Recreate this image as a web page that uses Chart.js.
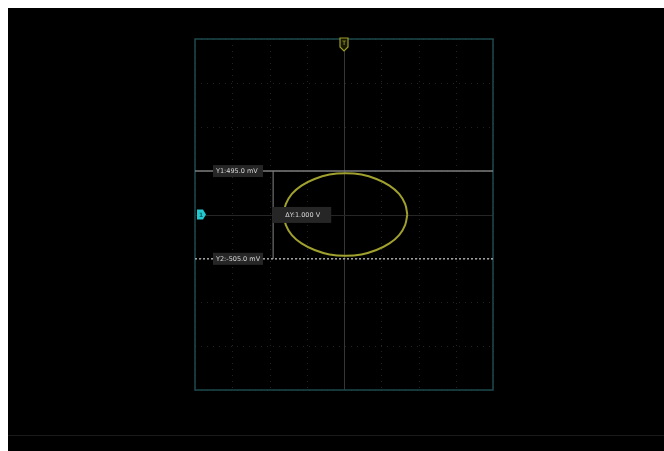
<!DOCTYPE html>
<html>
<head>
<meta charset="utf-8">
<script src="https://cdn.jsdelivr.net/npm/chart.js@4.4.1/dist/chart.umd.min.js"></script>
<style>
  body { margin: 8px 0 0 8px; background: #fff; overflow: hidden; }
  #wrap { width: 656px; height: 443px; background: #000; }
</style>
</head>
<body>
<div id="wrap"><canvas id="scope" width="656" height="443"></canvas></div>
<script>
// XY mode, 500 mV/div on both axes, 8 x 8 divisions
const divTicks = [-2, -1.5, -1, -0.5, 0, 0.5, 1, 1.5, 2];

// Lissajous trace (volts)
const traceX = [0.85, 0.82, 0.74, 0.61, 0.435, 0.235, 0.02, -0.195, -0.395, -0.57, -0.70, -0.78,
                -0.81, -0.78, -0.70, -0.57, -0.395, -0.195, 0.02, 0.235, 0.435, 0.61, 0.74, 0.82, 0.85];
const traceY = [0, 0.12, 0.235, 0.33, 0.405, 0.455, 0.47, 0.455, 0.405, 0.33, 0.235, 0.12,
                0, -0.12, -0.235, -0.33, -0.405, -0.455, -0.47, -0.455, -0.405, -0.33, -0.235, -0.12, 0];

// horizontal cursors
const cursorNames = ['Y1', 'Y2'];
const cursorValues = [0.495, -0.505];
const cursorLabels = ['Y1:495.0 mV', 'Y2:-505.0 mV'];
const deltaLabel = 'ΔY:1.000 V';
const deltaX = -0.95;

const pts = traceX.map((x, i) => ({ x: x, y: traceY[i] }));

const scopePlugin = {
    id: 'scope',
    beforeDatasetsDraw(chart) {
        const { ctx, chartArea: a, scales: { x, y } } = chart;
        ctx.save();
        // dotted division grid
        ctx.strokeStyle = '#232323';
        ctx.lineWidth = 1;
        ctx.setLineDash([1, 5]);
        divTicks.forEach(v => {
            if (v === 0) return;
            const px = Math.round(x.getPixelForValue(v)) + 0.5;
            ctx.beginPath(); ctx.moveTo(px, a.top); ctx.lineTo(px, a.bottom); ctx.stroke();
            const py = Math.round(y.getPixelForValue(v)) + 0.5;
            ctx.beginPath(); ctx.moveTo(a.left, py); ctx.lineTo(a.right, py); ctx.stroke();
        });
        // centre axes
        ctx.setLineDash([]);
        ctx.strokeStyle = '#363636';
        const cx = Math.round(x.getPixelForValue(0)) + 0.5;
        const cy = Math.round(y.getPixelForValue(0)) + 0.5;
        ctx.beginPath(); ctx.moveTo(cx, a.top); ctx.lineTo(cx, a.bottom); ctx.stroke();
        ctx.strokeStyle = '#262626';
        ctx.beginPath(); ctx.moveTo(a.left, cy); ctx.lineTo(a.right, cy); ctx.stroke();
        // frame
        ctx.strokeStyle = '#1d4a4d';
        ctx.lineWidth = 1.5;
        ctx.strokeRect(a.left, a.top, a.right - a.left, a.bottom - a.top);
        // status bar separator
        ctx.strokeStyle = '#1a1a1a';
        ctx.lineWidth = 1;
        ctx.beginPath(); ctx.moveTo(0, 427.5); ctx.lineTo(656, 427.5); ctx.stroke();
        ctx.restore();
    },
    afterDatasetsDraw(chart) {
        const { ctx, chartArea: a, scales: { x, y } } = chart;
        ctx.save();
        ctx.font = '6.5px "DejaVu Sans"';
        ctx.textBaseline = 'middle';
        // cursor labels
        cursorValues.forEach((v, i) => {
            const py = y.getPixelForValue(v);
            ctx.fillStyle = '#262626';
            ctx.fillRect(a.left + 18, py - 6, 50, 12);
            ctx.fillStyle = '#d8d8d8';
            ctx.fillText(cursorLabels[i], a.left + 21, py + 0.5);
        });
        // delta label
        const dx = x.getPixelForValue(deltaX);
        const dy = y.getPixelForValue((cursorValues[0] + cursorValues[1]) / 2);
        ctx.fillStyle = '#262626';
        ctx.fillRect(dx - 1, dy - 8, 59, 16);
        ctx.fillStyle = '#d8d8d8';
        ctx.fillText(deltaLabel, dx + 12, dy + 0.5);
        // channel 1 offset marker (left)
        const my = y.getPixelForValue(0);
        const ml = a.left + 2;
        ctx.fillStyle = '#22c9cf';
        ctx.beginPath();
        ctx.moveTo(ml, my - 5); ctx.lineTo(ml + 6, my - 5); ctx.lineTo(ml + 9, my);
        ctx.lineTo(ml + 6, my + 5); ctx.lineTo(ml, my + 5); ctx.closePath(); ctx.fill();
        ctx.fillStyle = '#0b5c60';
        ctx.font = 'bold 6px "DejaVu Sans"';
        ctx.fillText('1', ml + 2, my + 0.5);
        // trigger marker (top)
        const mx = x.getPixelForValue(0);
        ctx.strokeStyle = '#9c9c2a';
        ctx.lineWidth = 1.2;
        ctx.fillStyle = '#181800';
        ctx.beginPath();
        ctx.moveTo(mx - 4, a.top - 1); ctx.lineTo(mx + 4, a.top - 1); ctx.lineTo(mx + 4, a.top + 8);
        ctx.lineTo(mx, a.top + 12); ctx.lineTo(mx - 4, a.top + 8); ctx.closePath();
        ctx.fill(); ctx.stroke();
        ctx.fillStyle = '#b8b840';
        ctx.font = '6px "DejaVu Sans"';
        ctx.textAlign = 'center';
        ctx.fillText('T', mx, a.top + 4);
        ctx.restore();
    }
};

new Chart(document.getElementById('scope'), {
    type: 'scatter',
    data: {
        datasets: [
            {
                label: 'XY',
                data: pts,
                showLine: true,
                borderColor: '#a0a02e',
                borderWidth: 2,
                pointRadius: 0,
                tension: 0.4
            },
            {
                label: cursorNames[0],
                data: [{ x: -2, y: cursorValues[0] }, { x: 2, y: cursorValues[0] }],
                showLine: true,
                borderColor: '#7e7e7e',
                borderWidth: 1.5,
                pointRadius: 0
            },
            {
                label: cursorNames[1],
                data: [{ x: -2, y: cursorValues[1] }, { x: 2, y: cursorValues[1] }],
                showLine: true,
                borderColor: '#a8a8a8',
                borderWidth: 1.5,
                borderDash: [2, 2],
                pointRadius: 0
            },
            {
                label: 'ΔY',
                data: [{ x: deltaX, y: cursorValues[0] }, { x: deltaX, y: cursorValues[1] }],
                showLine: true,
                borderColor: '#555555',
                borderWidth: 1,
                pointRadius: 0
            }
        ]
    },
    options: {
        responsive: false,
        animation: false,
        layout: { padding: { left: 187, right: 171, top: 31, bottom: 61 } },
        scales: {
            x: { type: 'linear', min: -2, max: 2, display: false },
            y: { type: 'linear', min: -2, max: 2, display: false }
        },
        plugins: { legend: { display: false }, tooltip: { enabled: false } }
    },
    plugins: [scopePlugin]
});
</script>
</body>
</html>
